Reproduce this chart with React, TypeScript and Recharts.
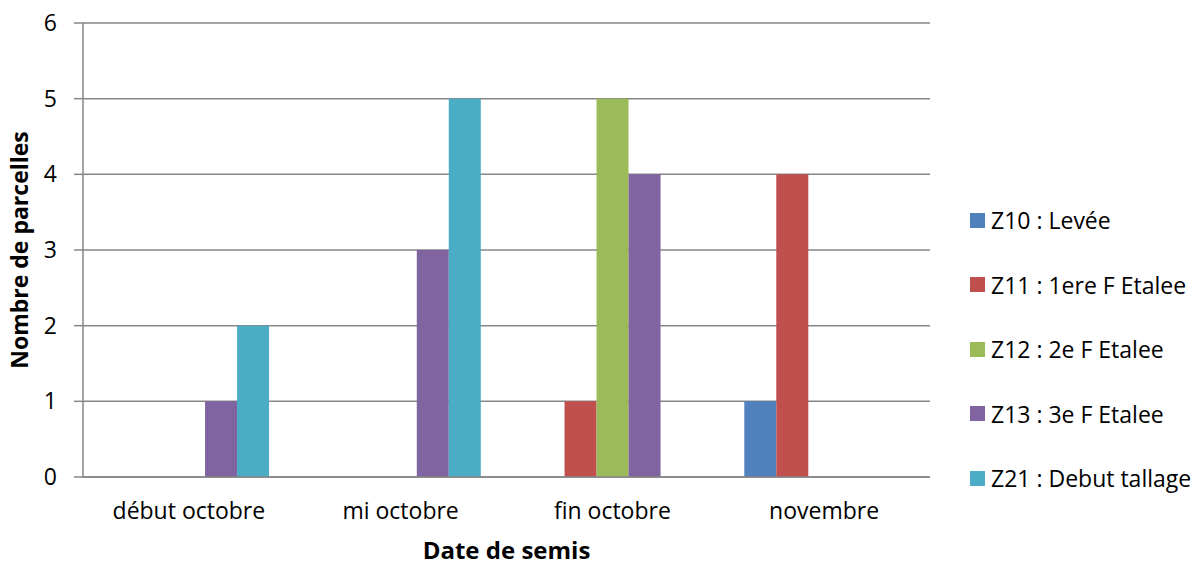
import React from "react";
import { BarChart, Bar, XAxis, YAxis, CartesianGrid, Label } from "recharts";

const categories = ["début octobre", "mi octobre", "fin octobre", "novembre"];
const seriesNames = [
  "Z10 : Levée",
  "Z11 : 1ere F Etalee",
  "Z12 : 2e F Etalee",
  "Z13 : 3e F Etalee",
  "Z21 : Debut tallage",
];
const z10 = [0, 0, 0, 1];
const z11 = [0, 0, 1, 4];
const z12 = [0, 0, 5, 0];
const z13 = [1, 3, 4, 0];
const z21 = [2, 5, 0, 0];
const yTicks = [0, 1, 2, 3, 4, 5, 6];

const colors = ["#4F81BD", "#C0504D", "#9BBB59", "#8064A2", "#4BACC6"];
const keys = ["z10", "z11", "z12", "z13", "z21"];
const values = [z10, z11, z12, z13, z21];

const data = categories.map((name, i) => {
  const row: Record<string, string | number> = { name };
  keys.forEach((k, j) => {
    row[k] = values[j][i];
  });
  return row;
});

const FONT = "'Open Sans', sans-serif";
const GRID = "#868686";

function LegendBox() {
  return (
    <div
      style={{
        position: "absolute",
        left: 970,
        top: 188,
        fontFamily: FONT,
        fontSize: 23,
        color: "#000",
      }}
    >
      {seriesNames.map((n, i) => (
        <div
          key={n}
          style={{ display: "flex", alignItems: "center", height: 64.5, whiteSpace: "nowrap" }}
        >
          <span
            style={{ width: 15, height: 15, background: colors[i], marginRight: 6, display: "inline-block" }}
          />
          {n}
        </div>
      ))}
    </div>
  );
}

export default function App() {
  return (
    <div style={{ position: "absolute", left: 0, top: 0, width: 1204, height: 565, background: "#fff" }}>
      <BarChart
        width={1204}
        height={565}
        data={data}
        margin={{ top: 23, right: 274, bottom: 58, left: 23 }}
        barCategoryGap="12.3%"
        barGap={0}
      >
        <CartesianGrid vertical={false} stroke={GRID} strokeWidth={1.5} />
        <XAxis
          dataKey="name"
          height={30}
          tickLine={false}
          axisLine={{ stroke: GRID, strokeWidth: 1.5 }}
          tick={{ fill: "#000", fontSize: 23, fontFamily: FONT }}
          tickMargin={20}
        >
          <Label
            value="Date de semis"
            position="bottom"
            offset={35}
            style={{ fill: "#000", fontSize: 24, fontWeight: "bold", fontFamily: FONT }}
          />
        </XAxis>
        <YAxis
          width={60}
          domain={[0, 6]}
          ticks={yTicks}
          interval={0}
          tickSize={9}
          tickMargin={17}
          tickLine={{ stroke: GRID, strokeWidth: 1.5 }}
          axisLine={{ stroke: GRID, strokeWidth: 1.5 }}
          tick={{ fill: "#000", fontSize: 23, fontFamily: FONT }}
        >
          <Label
            value="Nombre de parcelles"
            angle={-90}
            position="left"
            offset={3}
            style={{ fill: "#000", fontSize: 23, fontWeight: "bold", fontFamily: FONT, textAnchor: "middle" }}
          />
        </YAxis>
        {keys.map((k, i) => (
          <Bar key={k} dataKey={k} name={seriesNames[i]} fill={colors[i]} isAnimationActive={false} />
        ))}
      </BarChart>
      <LegendBox />
    </div>
  );
}
